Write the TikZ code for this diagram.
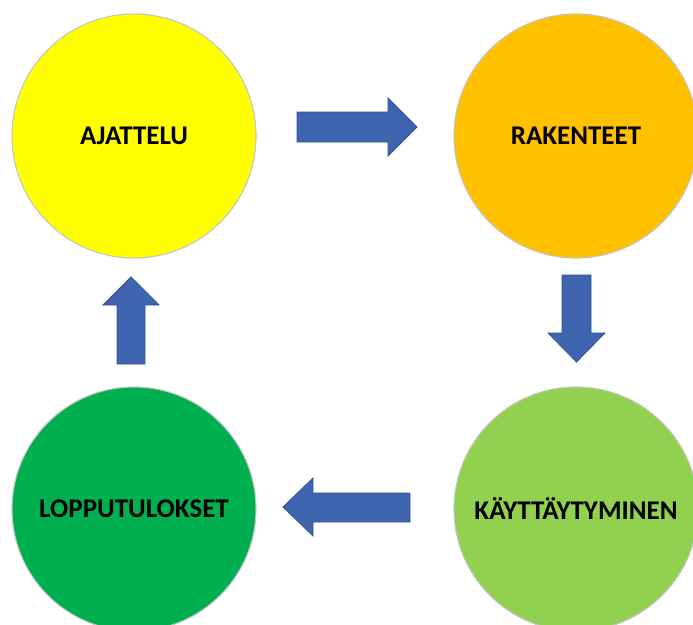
\documentclass[tikz,border=0pt]{standalone}
\usepackage{fontspec}
\setmainfont{Carlito}
\definecolor{cyellow}{HTML}{FFFF00}
\definecolor{corange}{HTML}{FFC000}
\definecolor{clight}{HTML}{92D050}
\definecolor{cgreen}{HTML}{00B050}
\definecolor{afill}{HTML}{3F65B0}
\definecolor{aline}{HTML}{2F528F}
\definecolor{rim}{HTML}{C4C4C4}
\begin{document}
\begin{tikzpicture}[x=1pt,y=-1pt,
  phase/.style={circle,draw=rim,line width=1.1pt,minimum size=244pt,inner sep=0pt,
    font=\fontsize{27}{31}\selectfont\bfseries,text=black},
  blockarrow/.style={fill=afill,draw=aline,line width=0.8pt,line join=miter}]
  \useasboundingbox (0,0) rectangle (693,624);
  \clip (0,0) rectangle (693,624);
  % the four phases of the cycle
  \node[phase,fill=cyellow] (ajattelu) at (134,136) {AJATTELU};
  \node[phase,fill=corange] (rakenteet) at (576,136) {RAKENTEET};
  \node[phase,fill=clight] (kaytt) at (576,509) {KÄYTTÄYTYMINEN};
  \node[phase,fill=cgreen] (loppu) at (134,509) {LOPPUTULOKSET};
  % block arrows between the phases
  \draw[blockarrow] (297,112) -- (388,112) -- (388,98) -- (417,127) -- (388,156)
    -- (388,142) -- (297,142) -- cycle;
  \draw[blockarrow] (562,275) -- (591,275) -- (591,333) -- (605,333) -- (576.5,362)
    -- (548,333) -- (562,333) -- cycle;
  \draw[blockarrow] (410,493) -- (313,493) -- (313,478) -- (283,507) -- (313,536)
    -- (313,522) -- (410,522) -- cycle;
  \draw[blockarrow] (117,364) -- (117,305) -- (103,305) -- (131,277) -- (159,305)
    -- (145,305) -- (145,364) -- cycle;
\end{tikzpicture}
\end{document}
